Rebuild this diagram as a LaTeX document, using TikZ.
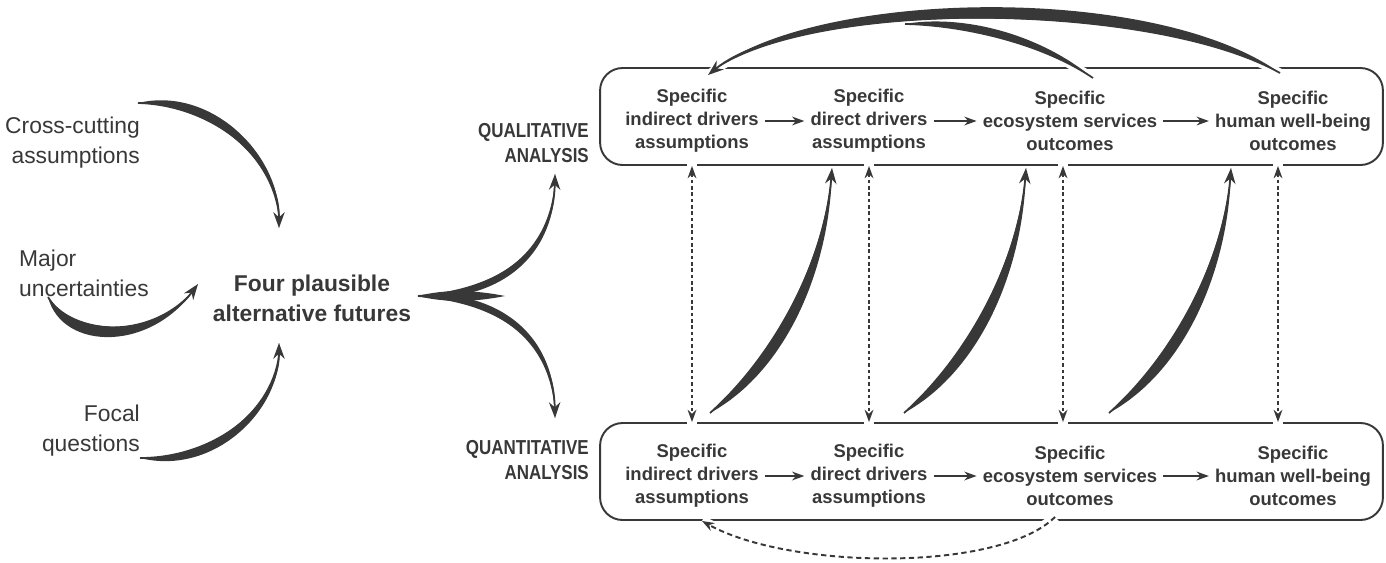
\documentclass[tikz,border=0pt]{standalone}
\usepackage{fontspec}
\setmainfont{Liberation Sans}
\newfontfamily\narrowfont[FakeStretch=0.84]{Liberation Sans}
\usetikzlibrary{arrows.meta,positioning,calc}

\definecolor{ink}{HTML}{383838}

% tapered stroke: #2 tail, #3 head, #4 #5 controls, #6 #7 outer controls
\newcommand{\swoosh}[7][-{Stealth[length=9pt,width=6.5pt]}]{%
  \fill[ink] (#2) .. controls (#4) and (#5) .. (#3)
    .. controls (#7) and (#6) .. (#2) -- cycle;
  \draw[ink,line width=1pt,#1] (#2) .. controls (#4) and (#5) .. (#3);
}

\begin{document}
\begin{tikzpicture}[x=0.02cm, y=-0.02cm,
  item/.style={align=center, text=ink, font=\fontsize{10.5}{13}\selectfont\bfseries},
  side/.style={text=ink, font=\fontsize{13}{17}\selectfont},
  future/.style={align=center, text=ink, font=\fontsize{13}{17}\selectfont\bfseries},
  kind/.style={align=right, anchor=east, text=ink, font=\narrowfont\fontsize{11.5}{14}\selectfont\bfseries},
  panel/.style={draw=ink, line width=1.1pt, rounded corners=0.45cm,
    minimum width=15.66cm, minimum height=1.94cm},
  flow/.style={draw=ink, line width=1pt, -{Stealth[length=7pt,width=5pt]}},
  halo/.style={draw=white, line width=6pt},
  link/.style={draw=ink, line width=1pt, dash pattern=on 2pt off 1.6pt,
    {Stealth[length=7pt,width=5pt]}-{Stealth[length=7pt,width=5pt]}},
  back/.style={draw=ink, line width=1.1pt, dash pattern=on 3pt off 2pt,
    -{Stealth[length=7pt,width=5pt]}}
  ]
\useasboundingbox (0,0) rectangle (1386,562);

% left column
\node[side, align=right, anchor=east] (cross) at (146,143) {Cross-cutting\\assumptions};
\node[side, align=left, anchor=west] (major) at (13,273) {Major\\uncertainties};
\node[side, align=right, anchor=east] (focal) at (146,431) {Focal\\questions};
\node[future] (futures) at (312,298) {Four plausible\\alternative futures};

% the two analyses
\node[kind] (qual) at (595,143) {QUALITATIVE\\ANALYSIS};
\node[kind] (quan) at (595,460) {QUANTITATIVE\\ANALYSIS};

\node[panel] (top) at (991.5,116.5) {};
\node[panel] (bot) at (991.5,471.5) {};

\node[item] (t1) at (692,121) {Specific\\indirect drivers\\assumptions};
\node[item] (t2) at (869,121) {Specific\\direct drivers\\assumptions};
\node[item] (t3) at (1070,121) {Specific\\ecosystem services\\outcomes};
\node[item] (t4) at (1293,121) {Specific\\human well-being\\outcomes};

\node[item] (b1) at (692,476) {Specific\\indirect drivers\\assumptions};
\node[item] (b2) at (869,476) {Specific\\direct drivers\\assumptions};
\node[item] (b3) at (1070,476) {Specific\\ecosystem services\\outcomes};
\node[item] (b4) at (1293,476) {Specific\\human well-being\\outcomes};

\foreach \a/\b in {t1/t2,t2/t3,t3/t4,b1/b2,b2/b3,b3/b4}
  \draw[flow] (\a) -- (\b);

% dotted links between the panels
\foreach \n/\dx in {1/0,2/0,3/-7,4/-15} {
  \draw[halo] ($(t\n |- top.south)+(\dx,-2)$) -- ($(t\n |- top.south)+(\dx,8)$);
  \draw[halo] ($(b\n |- bot.north)+(\dx,2)$) -- ($(b\n |- bot.north)+(\dx,-8)$);
  \draw[link] ($(t\n |- top.south)+(\dx,0)$) -- ($(b\n |- bot.north)+(\dx,0)$);
}

% feedback from the quantitative outcomes
\coordinate (backTail) at ($(b3 |- bot.south)+(-15,-4)$);
\coordinate (backHead) at ($(b1 |- bot.south)+(10,0)$);
\draw[halo] (backTail) .. controls (1000,572) and (790,570) .. (backHead);
\draw[back] (backTail) .. controls (1000,572) and (790,570) .. (backHead);

% feedback arcs over the top panel
\coordinate (outerTail) at (1280,73);
\coordinate (innerTail) at (1093,78);
\coordinate (arcHead) at (708,75);
\coordinate (arcJoin) at (905,24);
\draw[halo,line width=5pt] (outerTail) .. controls (1150,0) and (800,0) .. (arcHead);
\draw[halo,line width=5pt] (innerTail) .. controls (1040,42) and (960,25) .. (arcJoin);
\swoosh{outerTail}{arcHead}{1150,0}{800,0}{1150,-20}{800,-10}
\swoosh[-]{innerTail}{arcJoin}{1040,42}{960,25}{1033,29}{955,15}

% quantitative -> qualitative
\foreach \i/\x in {1/710,2/904,3/1109} {
  \coordinate (lift\i) at (\x,413);
  \coordinate (hit\i) at (\x+122,168);
  \swoosh{lift\i}{hit\i}{\x+65,355}{\x+115,260}{\x+80,369}{\x+121,262}
}

% inputs to the futures
\coordinate (crossTail) at (138,103);
\coordinate (crossHead) at (279,228);
\swoosh{crossTail}{crossHead}{213,105}{279,159}{213,85}{286,159}
\coordinate (majorTail) at (48,297);
\coordinate (majorHead) at (198,284);
\swoosh{majorTail}{majorHead}{70,335}{155,342}{62,352}{155,353}
\coordinate (focalTail) at (140,458);
\coordinate (focalHead) at (279,343);
\swoosh{focalTail}{focalHead}{216,458}{279,406}{216,477}{286,406}

% the fork
\coordinate (forkTail) at (418,296);
\coordinate (forkUp) at (555,174);
\coordinate (forkDown) at (555,418);
\fill[ink] (forkTail) .. controls (445,289) and (475,290) .. (505,296)
  .. controls (475,302) and (445,303) .. (forkTail);
\swoosh{forkTail}{forkUp}{480,292}{553,265}{480,304}{559,270}
\swoosh{forkTail}{forkDown}{480,300}{553,327}{480,288}{559,322}
\end{tikzpicture}
\end{document}
